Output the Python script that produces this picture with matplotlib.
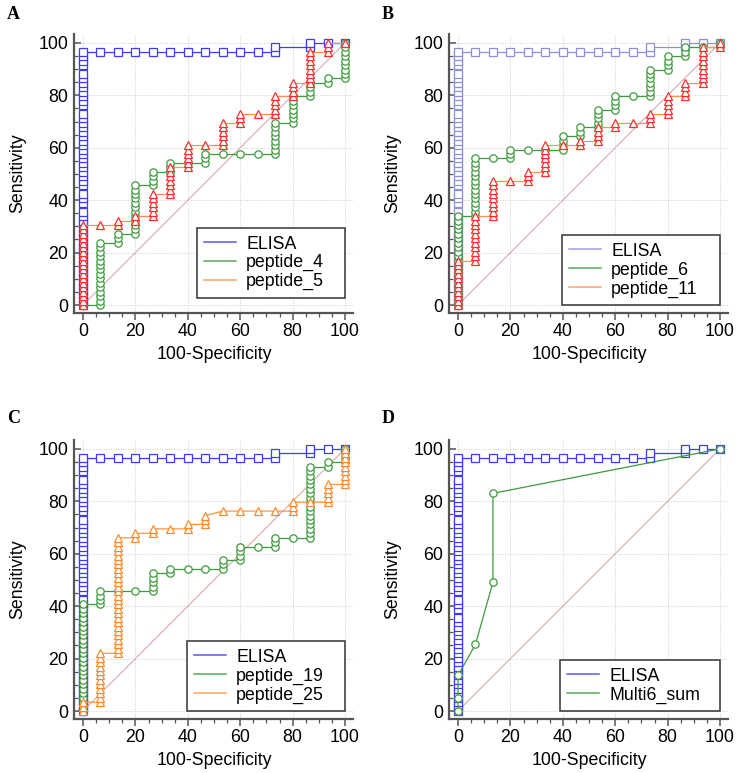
import matplotlib
matplotlib.use('Agg')
import matplotlib.pyplot as plt
from matplotlib.lines import Line2D
from matplotlib.ticker import MultipleLocator

N_POS = 59   # number of positive cases (sensitivity step = 1/59)
N_NEG = 15   # number of negative cases (specificity step = 1/15)

# Each run: (false-positive count, first true-positive count, last true-positive count)
# one marker per true-positive count inside a run
elisa = [(0, 0, 21), (0, 23, 25), (0, 27, 43), (0, 45, 52), (0, 54, 57),
         (1, 57, 57), (2, 57, 57), (3, 57, 57), (4, 57, 57), (5, 57, 57),
         (6, 57, 57), (7, 57, 57), (8, 57, 57), (9, 57, 57), (10, 57, 57),
         (11, 57, 58), (13, 58, 59), (14, 59, 59), (15, 59, 59)]

peptide_4 = [(0, 0, 0), (1, 0, 14), (2, 14, 16), (3, 16, 27), (4, 27, 30),
             (5, 30, 32), (6, 32, 32), (7, 32, 34), (8, 34, 34), (9, 34, 34),
             (10, 34, 34), (11, 34, 41), (12, 41, 47), (13, 47, 50),
             (14, 50, 51), (15, 51, 59)]

peptide_5 = [(0, 0, 18), (1, 18, 18), (2, 18, 19), (3, 19, 20), (4, 20, 25),
             (5, 25, 31), (6, 31, 36), (7, 36, 36), (8, 36, 41), (9, 41, 43),
             (10, 43, 43), (11, 43, 47), (12, 47, 50), (13, 50, 57),
             (14, 57, 59), (15, 59, 59)]

peptide_6 = [(0, 0, 20), (1, 20, 33), (2, 33, 33), (3, 33, 35), (4, 35, 35),
             (5, 35, 35), (6, 35, 38), (7, 38, 40), (8, 40, 44), (9, 44, 47),
             (10, 47, 47), (11, 47, 53), (12, 53, 56), (13, 56, 58),
             (14, 58, 58), (15, 58, 59)]

peptide_11 = [(0, 0, 10), (1, 10, 20), (2, 20, 28), (3, 28, 28), (4, 28, 30),
              (5, 30, 36), (6, 36, 36), (7, 36, 37), (8, 37, 40), (9, 40, 41),
              (10, 41, 41), (11, 41, 43), (12, 43, 47), (13, 47, 50),
              (14, 50, 58), (15, 58, 59)]

peptide_19 = [(0, 0, 24), (1, 24, 27), (2, 27, 27), (3, 27, 27), (4, 27, 31),
              (5, 31, 32), (6, 32, 32), (7, 32, 32), (8, 32, 34), (9, 34, 37),
              (10, 37, 37), (11, 37, 39), (12, 39, 39), (13, 39, 55),
              (14, 55, 56), (15, 56, 59)]

peptide_25 = [(0, 0, 2), (1, 2, 13), (2, 13, 39), (3, 39, 40), (4, 40, 41),
              (5, 41, 41), (6, 41, 42), (7, 42, 44), (8, 45, 45), (9, 45, 45),
              (10, 45, 45), (11, 45, 45), (12, 45, 47), (13, 47, 47),
              (14, 47, 51), (15, 51, 59)]

multi6_sum = [(0, 0, 0), (0, 3, 3), (0, 8, 8), (1, 15, 15), (2, 29, 29),
              (2, 49, 49), (15, 59, 59)]

panel_letters = ['A', 'B', 'C', 'D']
x_ticks = [0, 20, 40, 60, 80, 100]
y_ticks = [0, 20, 40, 60, 80, 100]

BLUE = '#3b3bff'
BLUE_LIGHT = '#8f8fe0'
GREEN = '#3c9b3c'
ORANGE = '#ff9548'
RED = '#ff2d2d'
ORANGE_MK = '#ff8a2e'
DIAG = '#d8abab'

SANS = 'Liberation Sans'
SERIF = 'Liberation Serif'


def expand(runs):
    xs, ys = [], []
    for fp, a, b in runs:
        for tp in range(a, b + 1):
            xs.append(100.0 * fp / N_NEG)
            ys.append(100.0 * tp / N_POS)
    return xs, ys


panels = [
    dict(series=[('ELISA', elisa, BLUE, 's', BLUE),
                 ('peptide_4', peptide_4, GREEN, 'o', GREEN),
                 ('peptide_5', peptide_5, ORANGE, '^', RED)],
         legend_box=(43.5, 2.7, 56.5)),
    dict(series=[('ELISA', elisa, BLUE_LIGHT, 's', BLUE_LIGHT),
                 ('peptide_6', peptide_6, GREEN, 'o', GREEN),
                 ('peptide_11', peptide_11, ORANGE, '^', RED)],
         legend_box=(39.7, 0, 60.3)),
    dict(series=[('ELISA', elisa, BLUE, 's', BLUE),
                 ('peptide_19', peptide_19, GREEN, 'o', GREEN),
                 ('peptide_25', peptide_25, ORANGE, '^', ORANGE_MK)],
         legend_box=(39.7, 0, 60.3)),
    dict(series=[('ELISA', elisa, BLUE, 's', BLUE),
                 ('Multi6_sum', multi6_sum, GREEN, 'o', GREEN)],
         legend_box=(38.9, 0, 61.1)),
]

W, H = 738, 773
fig = plt.figure(figsize=(W / 100, H / 100), dpi=100)

ax_px = [(74, 34), (449, 34), (74, 440), (449, 440)]  # left, top in pixels
AX_W, AX_H = 279, 279
letter_px = [(7, 6), (382, 6), (7, 410), (382, 410)]

for i, p in enumerate(panels):
    lx, ty = ax_px[i]
    ax = fig.add_axes([lx / W, 1 - (ty + AX_H) / H, AX_W / W, AX_H / H])
    ax.set_xlim(-3.44, 103.05)
    ax.set_ylim(-3.05, 103.4)
    ax.plot([0, 100], [0, 100], color=DIAG, lw=0.8, zorder=1)
    handles = []
    for k, (name, runs, lc, mk, mc) in enumerate(p['series']):
        xs, ys = expand(runs)
        ms = 5.2 if mk == 's' else (5.3 if mk == 'o' else 6.2)
        ax.plot(xs, ys, color=lc, lw=0.9, marker=mk, markersize=ms,
                markerfacecolor='white', markeredgecolor=mc,
                markeredgewidth=0.9, zorder=3 + k)
        handles.append(Line2D([], [], color=lc, lw=1.1, alpha=0.85))
    ax.set_xticks(x_ticks)
    ax.set_yticks(y_ticks)
    ax.xaxis.set_minor_locator(MultipleLocator(5))
    ax.yaxis.set_minor_locator(MultipleLocator(5))
    ax.grid(True, which='major', color='#cfcfcf', lw=0.7, ls=(0, (1, 1.5)))
    ax.set_axisbelow(True)
    for s in ['top', 'right']:
        ax.spines[s].set_visible(False)
    for s in ['left', 'bottom']:
        ax.spines[s].set_color('#555555')
        ax.spines[s].set_linewidth(1.6)
    ax.tick_params(axis='x', which='major', direction='out', length=5,
                   width=1.1, color='#555555', pad=2)
    ax.tick_params(axis='x', which='minor', direction='out', length=3,
                   width=0.9, color='#555555')
    ax.tick_params(axis='y', which='major', direction='in', length=5,
                   width=1.1, color='#555555', pad=4)
    ax.tick_params(axis='y', which='minor', direction='in', length=3,
                   width=0.9, color='#555555')
    for lab in ax.get_xticklabels() + ax.get_yticklabels():
        lab.set_fontfamily(SANS)
        lab.set_fontsize(12.8)
    ax.set_xlabel('100-Specificity', fontfamily=SANS, fontsize=12.8)
    ax.set_ylabel('Sensitivity', fontfamily=SANS, fontsize=12.8)
    ax.xaxis.set_label_coords(0.502, -0.118)
    ax.yaxis.set_label_coords(-0.17, 0.5)
    bx, by, bw = p['legend_box']
    leg = ax.legend(handles, [s[0] for s in p['series']], loc='lower left',
                    bbox_to_anchor=(bx, by, bw, 10), mode='expand',
                    bbox_transform=ax.transData, borderaxespad=0,
                    prop={'family': SANS, 'size': 12.8}, frameon=True,
                    fancybox=False, framealpha=1, edgecolor='#333333',
                    handlelength=1.75, handletextpad=0.6, labelspacing=0.1,
                    borderpad=0.42)
    leg.get_frame().set_linewidth(1.1)
    leg.set_zorder(10)
    px, py = letter_px[i]
    fig.text(px / W, 1 - py / H, panel_letters[i], fontfamily=SERIF,
             fontweight='bold', fontsize=13, ha='left', va='top')

fig.savefig('out.png', dpi=100)
